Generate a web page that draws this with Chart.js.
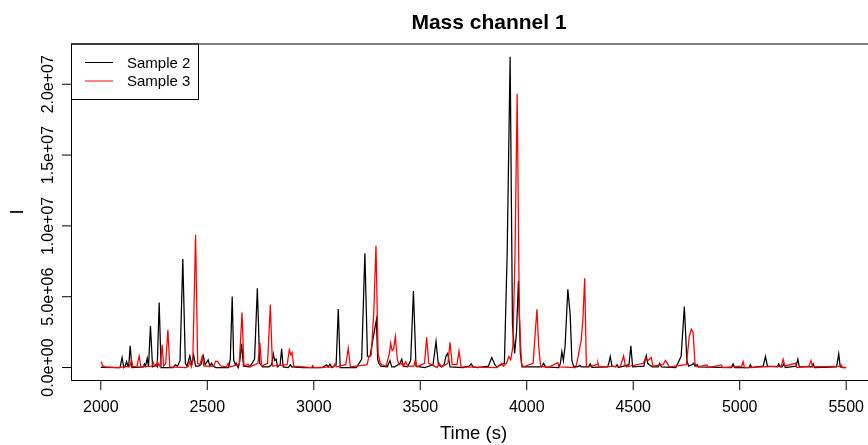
<!DOCTYPE html>
<html><head><meta charset="utf-8">
<script src="https://cdn.jsdelivr.net/npm/chart.js@4/dist/chart.umd.min.js"></script>
<style>
html,body{margin:0;padding:0;background:#fff;overflow:hidden;width:868px;height:445px}
#wrap{position:relative;width:910px;height:445px}
</style>
</head><body><div id="wrap"><canvas id="c" width="910" height="445"></canvas></div>
<script>
const chartTitle = 'Mass channel 1';
const xAxisTitle = 'Time (s)';
const yAxisTitle = 'I';
const seriesNames = ['Sample 2', 'Sample 3'];
const seriesColors = ['#000000', '#ff0000'];
const xTicks = [2000, 2500, 3000, 3500, 4000, 4500, 5000, 5500];
const yTicks = [0, 5e6, 1e7, 1.5e7, 2e7];
const yTickLabels = ['0.0e+00', '5.0e+06', '1.0e+07', '1.5e+07', '2.0e+07'];
const valueUnit = 1e6; // values below are in millions

// Sample 2 (black)
const sample2Time = [
 2000,2090,2100,2108,2114,2121,2128,2131,2138,2146,
 2200,2205,2210,2218,2224,2233,2243,2250,2258,2265,
 2274,2283,2340,2350,2360,2372,2385,2397,2405,2418,
 2427,2436,2445,2460,2470,2481,2490,2504,2512,2520,
 2528,2540,2600,2608,2617,2624,2627,2632,2636,2645,
 2652,2661,2670,2700,2722,2735,2746,2760,2790,2802,
 2810,2816,2823,2830,2842,2849,2856,2880,2890,2896,
 2950,3040,3060,3068,3076,3085,3105,3115,3124,3200,
 3225,3240,3252,3264,3272,3284,3294,3300,3305,3315,
 3345,3358,3366,3380,3395,3405,3413,3422,3440,3455,
 3468,3480,3520,3560,3574,3585,3600,3612,3621,3629,
 3640,3700,3730,3739,3748,3770,3820,3830,3836,3845,
 3850,3860,3895,3908,3922,3933,3943,3952,3961,3970,
 3978,4070,4079,4088,4150,4158,4165,4172,4180,4193,
 4204,4212,4220,4240,4250,4256,4290,4298,4306,4380,
 4386,4392,4400,4418,4424,4430,4480,4489,4497,4550,
 4561,4568,4575,4590,4618,4624,4632,4700,4725,4740,
 4752,4760,4775,4784,4790,4800,4806,4960,4969,4977,
 5045,5050,5056,5110,5121,5130,5177,5183,5190,5200,
 5207,5214,5265,5273,5280,5340,5345,5352,5455,5465,
 5472,5500
];
const sample2Value = [
 0.02,0,0.71,0,0.1,0.42,0.05,0.1,1.53,0,
 0.05,0.26,0.1,0.66,0.05,2.94,0.05,0.1,0.2,0.05,
 4.59,0,0,0.2,0.1,0.5,7.67,0.3,0.1,0.82,
 0.2,0.87,0.1,0.1,0.2,0.82,0.2,0.54,0.1,0.3,
 0.1,0,0,0.6,5.01,0.5,0.42,0.2,0.3,0,
 0.4,1.67,0.1,0.05,0.6,5.6,0.3,0.05,0.05,0.2,
 0.97,0.5,0.6,0.05,0.2,1.32,0.05,0,0.2,0.05,
 0,0,0.2,0.05,0.25,0,0.2,4.14,0,0,
 0.6,8.07,0.8,0.78,1.5,2.54,3.37,0.6,0.3,0.1,
 0.05,0.49,0.05,0.05,0.2,0.3,0.59,0.1,0.05,0.5,
 5.41,0.1,0,0.2,1.84,0.2,0.05,0.2,0.82,1.0,
 0.05,0,0.1,0.26,0.05,0,0.1,0.5,0.71,0.4,
 0.2,0.05,0.3,8.0,21.94,3.0,1.0,2.5,6.12,1.0,
 0.05,0.05,0.3,0.05,0,0.3,1.13,0.5,1.5,5.53,
 3.72,0.5,0.1,0.05,0.15,0.05,0.05,0.26,0.02,0.05,
 0.35,0.78,0.1,0.05,0.19,0,0.2,1.53,0.05,0.1,
 0.85,0.3,0.2,0.05,0.05,0.3,0.05,0,0.8,4.31,
 0.5,0.1,0.2,0.3,0.1,0.2,0.05,0,0.26,0,
 0,0.19,0,0.1,0.78,0.1,0.05,0.26,0.05,0.05,
 0.26,0,0.1,0.59,0.05,0.05,0.26,0,0.05,0.97,
 0.05,0
];

// Sample 3 (red)
const sample3Time = [
 2000,2004,2008,2012,2020,2080,2137,2144,2151,2170,
 2180,2188,2240,2246,2252,2260,2266,2274,2280,2288,
 2295,2305,2315,2324,2400,2412,2418,2425,2432,2445,
 2455,2466,2476,2484,2530,2539,2550,2558,2566,2590,
 2598,2605,2650,2663,2672,2680,2692,2700,2738,2747,
 2755,2783,2796,2806,2875,2885,2892,2898,2906,2990,
 2995,3000,3094,3100,3106,3150,3162,3172,3250,3259,
 3270,3282,3292,3302,3312,3320,3340,3355,3361,3368,
 3375,3383,3392,3400,3413,3420,3432,3440,3470,3476,
 3485,3520,3530,3540,3580,3589,3600,3630,3640,3650,
 3672,3682,3692,3860,3883,3890,3905,3916,3925,3935,
 3945,3955,3965,3975,3985,4030,4040,4048,4056,4065,
 4100,4146,4152,4230,4240,4250,4256,4264,4272,4280,
 4290,4330,4334,4340,4440,4455,4462,4468,4548,4557,
 4570,4585,4592,4640,4651,4660,4670,4750,4763,4773,
 4781,4790,4800,4846,4852,4914,4920,5010,5016,5022,
 5195,5204,5212,5262,5268,5325,5335,5342,5470,5476,
 5482,5500
];
const sample3Value = [
 0.42,0.35,0.1,0.12,0.05,0,0.1,0.54,0.05,0.1,
 0.82,0.05,0.1,0.35,0.1,0.1,0.42,0.1,0.3,1.6,
 0.1,0.3,2.66,0.05,0,0.1,0.42,0.05,0.5,9.37,
 0.3,0.2,0.78,0.1,0.1,0.45,0.42,0.2,0.1,0.05,
 0.3,0.05,0.2,3.88,0.1,0.15,0.23,0.05,0.3,1.77,
 0.1,0.3,4.43,0.1,0.2,1.25,0.9,1.06,0.1,0,
 0.14,0,0.05,0.26,0.05,0.2,1.37,0.05,0.2,0.78,
 0.9,4.0,8.59,1.0,0.3,0.2,0.1,1.0,1.72,1.2,
 1.3,2.19,0.6,0.2,0.3,0.1,0.42,0.1,0.1,0.49,
 0.05,0.3,2.14,0.3,0,0.3,0.05,0.3,1.79,0.2,
 0.2,1.18,0.05,0,0.3,0.1,0.3,0.78,0.55,1.5,
 8.0,19.33,4.0,0.3,0.05,0.3,2.5,4.12,1.5,0.1,
 0,0.35,0.05,0,0.66,1.5,1.95,3.5,6.31,0.1,
 0.05,0.2,0.35,0.05,0.1,0.82,0.2,0.05,0.3,0.66,
 0.5,0.71,0.1,0.2,0.5,0.3,0.05,0.2,2.2,2.7,
 2.5,0.3,0.05,0.19,0,0.19,0,0.1,0.42,0,
 0.1,0.59,0.1,0.3,0,0.1,0.49,0.05,0.1,0.2,
 0,0
];

const FONT = '"Liberation Sans", Arial, Helvetica, sans-serif';

function toPoints(times, values) {
  return times.map((t, i) => ({ x: t, y: values[i] * valueUnit }));
}

const rPlot = {
  id: 'rPlot',
  afterDraw(chart) {
    const { ctx, chartArea: a, scales: { x, y } } = chart;
    ctx.save();
    ctx.strokeStyle = '#000';
    ctx.fillStyle = '#000';
    ctx.lineWidth = 1;

    // legend
    const lx0 = 71.5, ly0 = 44, lx1 = 198.5, ly1 = 99.5;
    ctx.fillStyle = '#fff';
    ctx.fillRect(lx0, ly0, lx1 - lx0, ly1 - ly0);
    ctx.strokeRect(lx0, ly0, lx1 - lx0, ly1 - ly0);
    const rowY = [62.5, 81];
    ctx.font = '15px ' + FONT;
    ctx.textAlign = 'left';
    ctx.textBaseline = 'middle';
    seriesNames.forEach((n, i) => {
      ctx.strokeStyle = seriesColors[i];
      ctx.beginPath();
      ctx.moveTo(85, rowY[i]);
      ctx.lineTo(113, rowY[i]);
      ctx.stroke();
      ctx.fillStyle = '#000';
      ctx.fillText(n, 127, rowY[i] + 1);
    });

    // box
    ctx.strokeStyle = '#000';
    ctx.strokeRect(Math.round(a.left) + 0.5, Math.round(a.top), Math.round(a.right) - Math.round(a.left), Math.round(a.bottom) + 0.5 - Math.round(a.top));

    // x axis ticks + labels
    ctx.font = '16px ' + FONT;
    ctx.textAlign = 'center';
    ctx.textBaseline = 'alphabetic';
    const xb = Math.round(a.bottom) + 0.5;
    xTicks.forEach(t => {
      const px = x.getPixelForValue(t);
      ctx.beginPath();
      ctx.moveTo(px, xb);
      ctx.lineTo(px, xb + 9.5);
      ctx.stroke();
      ctx.fillText(String(t), px, 411.5);
    });

    // y axis ticks + labels
    const yl = Math.round(a.left) + 0.5;
    yTicks.forEach((v, i) => {
      const py = y.getPixelForValue(v);
      ctx.beginPath();
      ctx.moveTo(yl - 9.5, py);
      ctx.lineTo(yl, py);
      ctx.stroke();
      ctx.save();
      ctx.translate(53, py);
      ctx.rotate(-Math.PI / 2);
      ctx.fillText(yTickLabels[i], 0, 0);
      ctx.restore();
    });

    // axis titles
    ctx.font = '18.5px ' + FONT;
    ctx.fillText(xAxisTitle, (a.left + a.right) / 2, 439);
    ctx.save();
    ctx.translate(23, (a.top + a.bottom) / 2);
    ctx.rotate(-Math.PI / 2);
    ctx.fillText(yAxisTitle, 0, 0);
    ctx.restore();

    // main title
    ctx.font = 'bold 21px ' + FONT;
    ctx.fillText(chartTitle, 489, 29);
    ctx.restore();
  }
};

new Chart(document.getElementById('c').getContext('2d'), {
  type: 'line',
  data: {
    datasets: [
      { label: seriesNames[0], data: toPoints(sample2Time, sample2Value), borderColor: seriesColors[0], borderWidth: 1.25, pointRadius: 0, tension: 0, fill: false, order: 2 },
      { label: seriesNames[1], data: toPoints(sample3Time, sample3Value), borderColor: seriesColors[1], borderWidth: 1.25, pointRadius: 0, tension: 0, fill: false, order: 1 }
    ]
  },
  options: {
    responsive: false,
    animation: false,
    events: [],
    layout: { padding: { left: 71, right: 34, top: 44, bottom: 65 } },
    scales: {
      x: { type: 'linear', min: 1860, max: 5640, display: false },
      y: { type: 'linear', min: -878000, max: 22840000, display: false }
    },
    plugins: { legend: { display: false }, title: { display: false }, tooltip: { enabled: false } }
  },
  plugins: [rPlot]
});
</script>
</body></html>
